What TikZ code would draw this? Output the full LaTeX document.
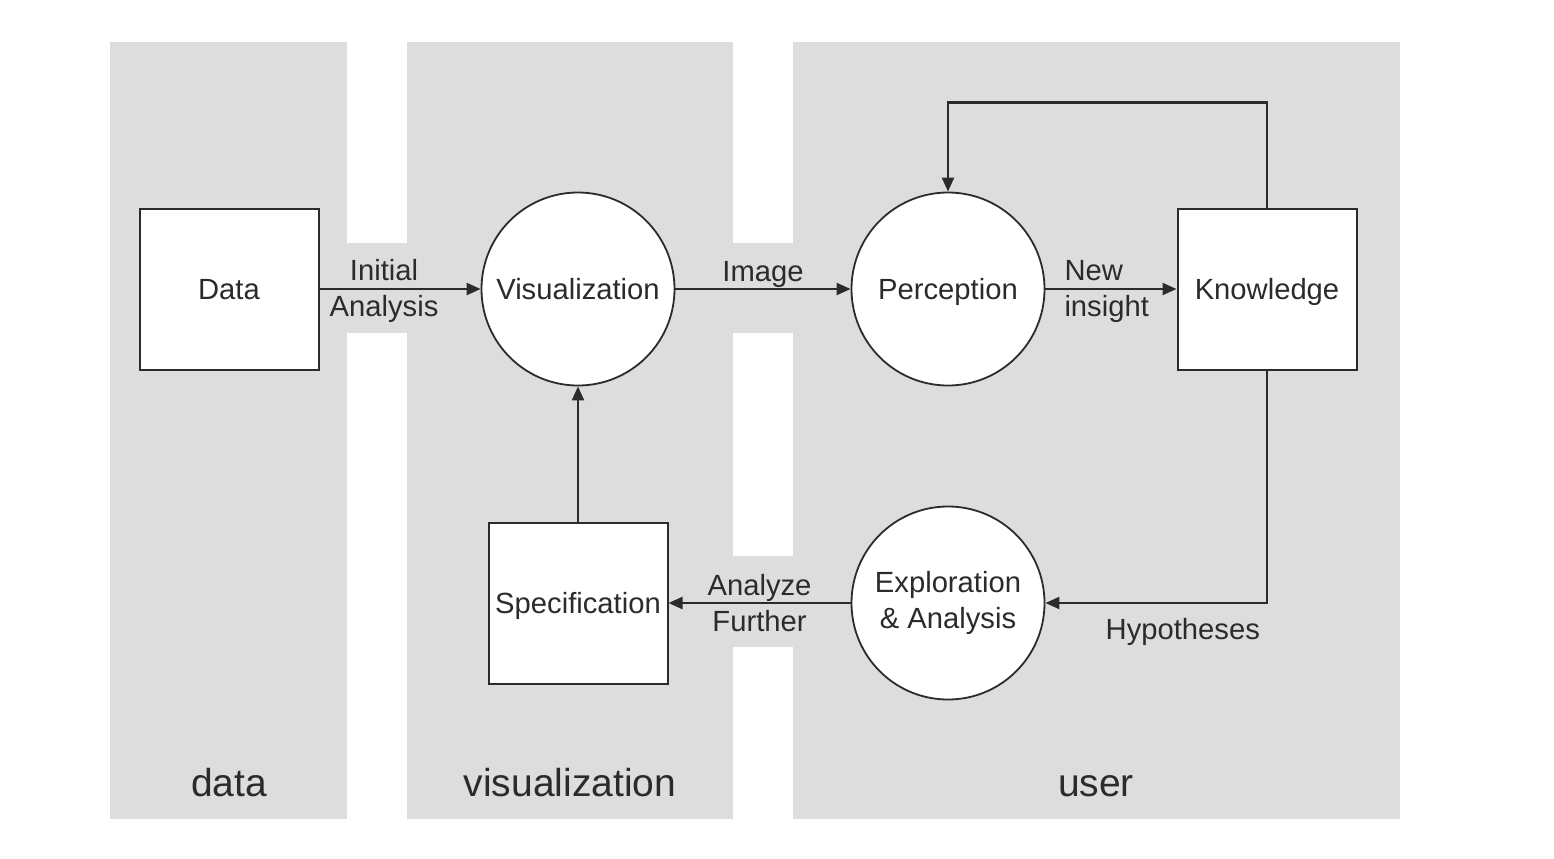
\documentclass[tikz,border=0pt]{standalone}
\usepackage{fontspec}
\setmainfont{Liberation Sans}
\usepackage{xcolor}
\definecolor{PanelGray}{HTML}{DDDDDD}
\definecolor{InkGray}{HTML}{2B2B2B}
\usepackage{tikz}
\usetikzlibrary{positioning,arrows.meta,shapes.geometric}

\tikzset{
  oneline/.style={text height=13pt, text depth=2.5pt},
  stagebox/.style={draw=InkGray, line width=1pt, fill=white, minimum width=89.5pt, minimum height=80.5pt, inner sep=0pt, text=InkGray, font=\fontsize{14.6pt}{18pt}\selectfont, oneline},
  process/.style={circle, draw=InkGray, line width=0.9pt, fill=white, minimum size=96.5pt, inner sep=0pt, align=center, text=InkGray, font=\fontsize{14.6pt}{18pt}\selectfont},
  flow/.style={draw=InkGray, line width=1.1pt, -{Triangle[length=7pt,width=6pt]}},
  flowlabel/.style={text=InkGray, align=center, inner sep=1pt, font=\fontsize{14.6pt}{18pt}\selectfont},
  lanelabel/.style={text=InkGray, font=\fontsize{19.5pt}{22pt}\selectfont, text height=17pt, text depth=3pt}
}

\begin{document}
\begin{tikzpicture}[x=0.5pt, y=-0.5pt]
    \useasboundingbox (0,0) rectangle (1554,858);

    % Draw the three lanes and the gray bridges between them
    \foreach \xa/\xb in {110/347, 407/733, 793/1400} {
      \fill[PanelGray] (\xa,42) rectangle (\xb,819);
    }
    \foreach \xa/\ya/\xb/\yb in {347/243/407/333, 733/243/793/333, 733/556/793/647} {
      \fill[PanelGray] (\xa,\ya) rectangle (\xb,\yb);
    }

    % Lane titles
    \node[lanelabel] (lanedata) at (229,782) {data};
    \node[lanelabel] (lanevis) at (570,782) {visualization};
    \node[lanelabel] (laneuser) at (1096,782) {user};

    % Stages
    \node[stagebox] (data) at (229,289) {Data};
    \node[process, oneline] (vis) at (578,289) {Visualization};
    \node[process, oneline] (perc) at (948,289) {Perception};
    \node[stagebox] (know) at (1267,289) {Knowledge};
    \node[stagebox] (spec) at (578,603) {Specification};
    \node[process] (expl) at (948,603) {Exploration\\\& Analysis};

    % Flows
    \draw[flow] (data) -- (vis)
      node[flowlabel, midway, xshift=-8pt, yshift=-1pt] {Initial\\Analysis};
    \draw[flow] (vis) -- (perc)
      node[flowlabel, midway, above, yshift=-1pt] {Image};
    \draw[flow] (perc) -- (know)
      node[flowlabel, pos=0, anchor=west, align=left, xshift=8pt, yshift=-1pt] {New\\insight};
    \draw[flow] (know.north) -- ++(0,-105) -| (perc.north);
    \draw[flow] (know.south) |- (expl.east)
      node[flowlabel, pos=0.5, anchor=north east, xshift=-2pt, yshift=-6pt] {Hypotheses};
    \draw[flow] (expl) -- (spec)
      node[flowlabel, midway] {Analyze\\Further};
    \draw[flow] (spec) -- (vis);
  \end{tikzpicture}
\end{document}
